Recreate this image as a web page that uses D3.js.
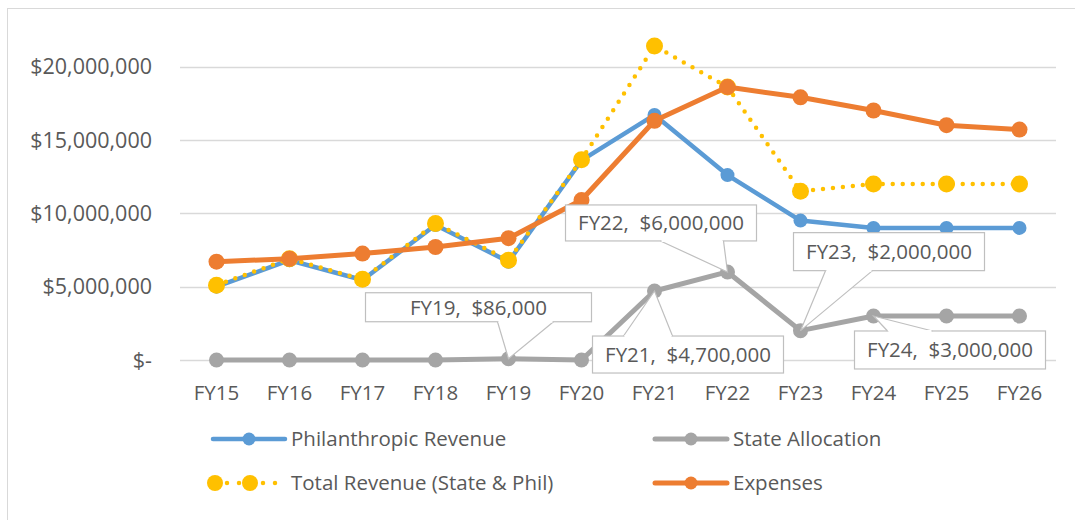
<!DOCTYPE html>
<html>
<head>
<meta charset="utf-8">
<script src="https://cdn.jsdelivr.net/npm/d3@7"></script>
<style>
  html, body { margin: 0; padding: 0; background: #fff; }
  #chart svg { display: block; font-family: "Open Sans", "Noto Sans", sans-serif; }
  .callout-text { white-space: pre; }
</style>
</head>
<body>
<div id="chart"></div>
<script>
// fiscal years on the x axis
const years = ['FY15','FY16','FY17','FY18','FY19','FY20','FY21','FY22','FY23','FY24','FY25','FY26'];

// series values (USD)
const philanthropic = [5000000, 6800000, 5450000, 9200000, 6700000, 13600000, 16700000, 12600000, 9500000, 9000000, 9000000, 9000000];
const stateAlloc    = [0, 0, 0, 0, 86000, 0, 4700000, 6000000, 2000000, 3000000, 3000000, 3000000];
const totalRevenue  = [5100000, 6900000, 5500000, 9300000, 6800000, 13650000, 21400000, 18600000, 11500000, 12000000, 12000000, 12000000];
const expenses      = [6700000, 6900000, 7250000, 7700000, 8300000, 10900000, 16300000, 18600000, 17900000, 17000000, 16000000, 15700000];

const yTicks = [0, 5000000, 10000000, 15000000, 20000000];

// data label callouts on the state allocation series
const callouts = [
  { year: 'FY19', text: 'FY19,  $86,000' },
  { year: 'FY21', text: 'FY21,  $4,700,000' },
  { year: 'FY22', text: 'FY22,  $6,000,000' },
  { year: 'FY23', text: 'FY23,  $2,000,000' },
  { year: 'FY24', text: 'FY24,  $3,000,000' }
];

(function(){
  const W = 1075, H = 520;
  const textCol = '#595959';
  const svg = d3.select('#chart').append('svg').attr('width', W).attr('height', H);

  // chart area border (only top/left visible in the crop)
  svg.append('rect').attr('x', 7.5).attr('y', 8.5).attr('width', 1200).attr('height', 700)
    .attr('fill', 'none').attr('stroke', '#d9d9d9').attr('stroke-width', 1);

  const x = d3.scaleBand().domain(years).range([180, 1056]);
  const y = d3.scaleLinear().domain([0, 20000000]).range([360, 66.5]);
  const cx = d => x(d) + x.bandwidth() / 2;

  // gridlines
  svg.append('g').selectAll('line').data(yTicks).join('line')
    .attr('x1', 180).attr('x2', 1056)
    .attr('y1', d => Math.round(y(d)) + 0.5).attr('y2', d => Math.round(y(d)) + 0.5)
    .attr('stroke', '#d9d9d9').attr('stroke-width', 1.5);

  // y axis labels
  const fmt = d => d === 0 ? '$-' : '$' + d3.format(',')(d);
  svg.append('g').selectAll('text').data(yTicks).join('text')
    .attr('x', 152).attr('y', d => y(d)).attr('dy', '0.36em')
    .attr('text-anchor', 'end').attr('fill', textCol).attr('font-size', 21.5)
    .text(fmt);

  // x axis labels
  svg.append('g').selectAll('text').data(years).join('text')
    .attr('x', d => cx(d)).attr('y', 400)
    .attr('text-anchor', 'middle').attr('fill', textCol).attr('font-size', 20.5)
    .text(d => d);

  const series = [
    { name: 'Philanthropic Revenue', values: philanthropic, color: '#5b9bd5', width: 4.5, r: 7, dash: null },
    { name: 'State Allocation', values: stateAlloc, color: '#a5a5a5', width: 5, r: 7.5, dash: null },
    { name: 'Total Revenue (State & Phil)', values: totalRevenue, color: '#ffc000', width: 4.5, r: 8.5, dash: '0 10' },
    { name: 'Expenses', values: expenses, color: '#ed7d31', width: 5, r: 8, dash: null }
  ];

  const line = d3.line().x((d, i) => cx(years[i])).y(d => y(d));

  series.forEach(s => {
    const g = svg.append('g');
    g.append('path').datum(s.values).attr('d', line)
      .attr('fill', 'none').attr('stroke', s.color).attr('stroke-width', s.width)
      .attr('stroke-linejoin', 'round').attr('stroke-linecap', 'round')
      .attr('stroke-dasharray', s.dash);
    g.selectAll('circle').data(s.values).join('circle')
      .attr('cx', (d, i) => cx(years[i])).attr('cy', d => y(d)).attr('r', s.r)
      .attr('fill', s.color);
  });

  // callouts: box offset from point (box left/top relative to point), wedge base x offsets
  const layout = {
    FY19: { bx: -143, by: -66, w: 226, h: 29, wa: -11, wb: 45 },
    FY21: { bx: -62, by: 45, w: 191, h: 37, wa: -31, wb: 18 },
    FY22: { bx: -162, by: -67, w: 191, h: 36, wa: -67, wb: -4 },
    FY23: { bx: -7, by: -98, w: 191, h: 38, wa: 25, wb: 72 },
    FY24: { bx: -19, by: 15, w: 191, h: 38, wa: 14, wb: 59 }
  };
  const cg = svg.append('g');
  callouts.forEach(c => {
    const i = years.indexOf(c.year);
    const px = cx(c.year), py = y(stateAlloc[i]);
    const L = layout[c.year];
    const bx = px + L.bx, by = py + L.by;
    const baseY = L.by < 0 ? by + L.h : by;
    cg.append('rect').attr('x', bx).attr('y', by).attr('width', L.w).attr('height', L.h)
      .attr('fill', '#fff').attr('stroke', '#bfbfbf').attr('stroke-width', 1.2);
    // wedge pointing to the data point
    cg.append('path')
      .attr('d', `M${px + L.wa},${baseY} L${px},${py} L${px + L.wb},${baseY}`)
      .attr('fill', '#fff').attr('stroke', '#bfbfbf').attr('stroke-width', 1.2);
    cg.append('line').attr('x1', px + L.wa + 1).attr('x2', px + L.wb - 1)
      .attr('y1', baseY).attr('y2', baseY).attr('stroke', '#fff').attr('stroke-width', 2);
    cg.append('text').attr('class', 'callout-text')
      .attr('x', bx + L.w / 2).attr('y', by + L.h / 2).attr('dy', '0.36em')
      .attr('text-anchor', 'middle').attr('fill', textCol).attr('font-size', 20.5)
      .text(c.text);
  });

  // legend (two columns, two rows)
  const legendPos = [[213, 439], [655, 439], [213, 483], [655, 483]];
  series.forEach((s, i) => {
    const [lx, ly] = legendPos[i];
    const g = svg.append('g').attr('transform', `translate(${lx},${ly})`);
    if (s.dash) {
      g.append('line').attr('x1', 2).attr('x2', 72).attr('y1', 0).attr('y2', 0)
        .attr('stroke', s.color).attr('stroke-width', 4.5).attr('stroke-linecap', 'round')
        .attr('stroke-dasharray', '0 12');
      g.append('circle').attr('cx', 2).attr('cy', 0).attr('r', 8).attr('fill', s.color);
      g.append('circle').attr('cx', 37).attr('cy', 0).attr('r', 8).attr('fill', s.color);
    } else {
      g.append('line').attr('x1', 0).attr('x2', 72).attr('y1', 0).attr('y2', 0)
        .attr('stroke', s.color).attr('stroke-width', s.width).attr('stroke-linecap', 'round');
      g.append('circle').attr('cx', 36).attr('cy', 0).attr('r', 6.5).attr('fill', s.color);
    }
    g.append('text').attr('x', 78).attr('y', 0).attr('dy', '0.36em')
      .attr('fill', textCol).attr('font-size', 20.5).text(s.name);
  });
})();
</script>
</body>
</html>
